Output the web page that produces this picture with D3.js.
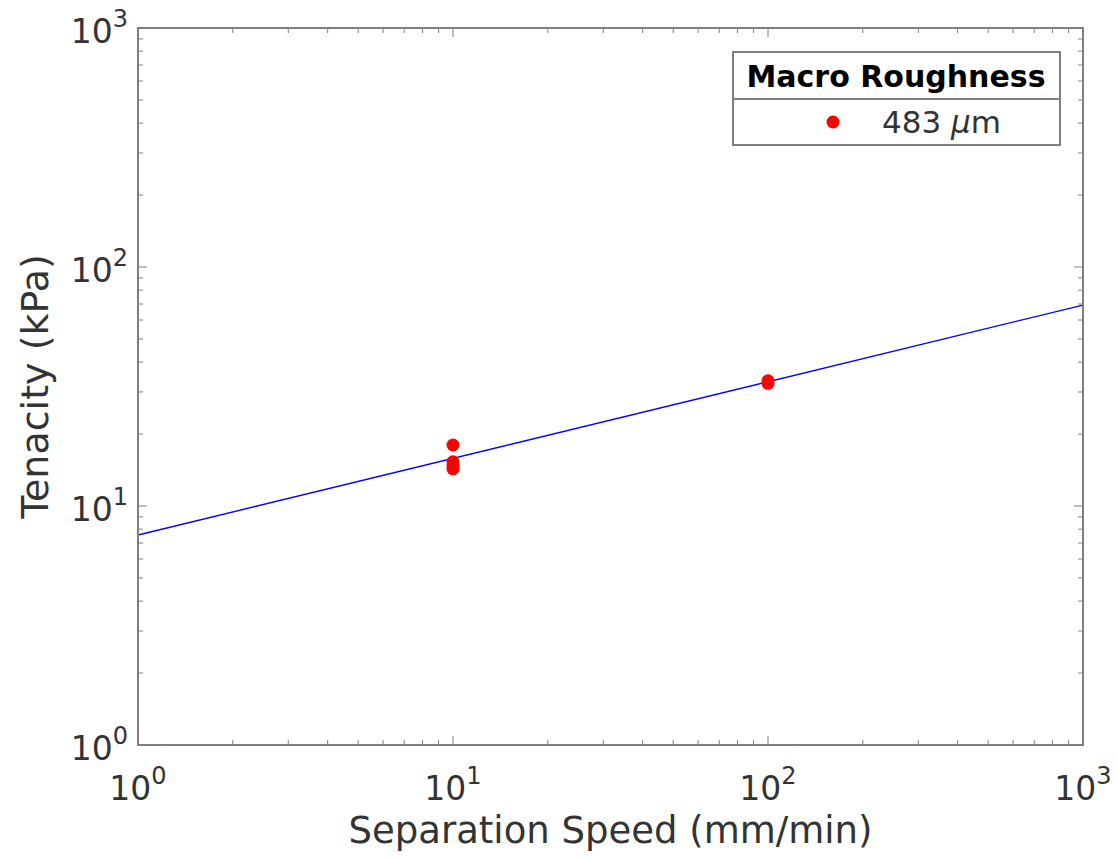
<!DOCTYPE html>
<html>
<head>
<meta charset="utf-8">
<script src="https://cdn.jsdelivr.net/npm/d3@7"></script>
<style>
  body { margin: 0; background: #fff; }
  text { font-family: "DejaVu Sans", sans-serif; fill: #333333; }
</style>
</head>
<body>
<div id="chart"></div>
<script>
// data
var speed = [10, 10, 10, 10, 100, 100];          // mm/min
var tenacity = [18.0, 15.3, 14.7, 14.3, 33.4, 32.6]; // kPa
var fitSpeed = [1, 1000];
var fitTenacity = [7.56, 69.3];
var xTicks = [1, 10, 100, 1000];
var yTicks = [1, 10, 100, 1000];
var legendTitle = "Macro Roughness";
var legendLabel = "483 ";

var W = 1118, H = 858;
var m = {left: 138, right: 35, top: 28, bottom: 113};

var svg = d3.select("#chart").append("svg")
  .attr("width", W).attr("height", H);

var x = d3.scaleLog().domain([1, 1000]).range([m.left, W - m.right]);
var y = d3.scaleLog().domain([1, 1000]).range([H - m.bottom, m.top]);

var axisCol = "#7f7f7f";
var x0 = x.range()[0], x1 = x.range()[1], y0 = y.range()[0], y1 = y.range()[1];

// minor + major ticks on all four sides
var minorVals = [];
for (var d = 1; d < 1000; d *= 10) {
  for (var k = 2; k <= 9; k++) minorVals.push(d * k);
}
var ticks = svg.append("g").attr("stroke", axisCol).attr("stroke-width", 1);
minorVals.forEach(function(v) {
  ticks.append("line").attr("x1", x(v)).attr("x2", x(v)).attr("y1", y0).attr("y2", y0 - 5);
  ticks.append("line").attr("x1", x(v)).attr("x2", x(v)).attr("y1", y1).attr("y2", y1 + 5);
  ticks.append("line").attr("y1", y(v)).attr("y2", y(v)).attr("x1", x0).attr("x2", x0 + 5);
  ticks.append("line").attr("y1", y(v)).attr("y2", y(v)).attr("x1", x1).attr("x2", x1 - 5);
});
xTicks.forEach(function(v) {
  ticks.append("line").attr("x1", x(v)).attr("x2", x(v)).attr("y1", y0).attr("y2", y0 - 9);
  ticks.append("line").attr("x1", x(v)).attr("x2", x(v)).attr("y1", y1).attr("y2", y1 + 9);
});
yTicks.forEach(function(v) {
  ticks.append("line").attr("y1", y(v)).attr("y2", y(v)).attr("x1", x0).attr("x2", x0 + 9);
  ticks.append("line").attr("y1", y(v)).attr("y2", y(v)).attr("x1", x1).attr("x2", x1 - 9);
});

// fit line
var line = d3.line().x(function(d) { return x(d[0]); }).y(function(d) { return y(d[1]); });
svg.append("path")
  .datum(d3.zip(fitSpeed, fitTenacity))
  .attr("d", line)
  .attr("fill", "none")
  .attr("stroke", "#0000ff")
  .attr("stroke-width", 1.4);

// data points
svg.append("g").selectAll("circle")
  .data(d3.zip(speed, tenacity))
  .enter().append("circle")
  .attr("cx", function(d) { return x(d[0]); })
  .attr("cy", function(d) { return y(d[1]); })
  .attr("r", 6.5)
  .attr("fill", "#ff0000");

// box
svg.append("rect")
  .attr("x", x0).attr("y", y1)
  .attr("width", x1 - x0).attr("height", y0 - y1)
  .attr("fill", "none").attr("stroke", axisCol).attr("stroke-width", 2);

// tick labels 10^n
function powLabel(g, v, px, py, anchor) {
  var t = g.append("text").attr("x", px).attr("y", py)
    .attr("text-anchor", anchor).style("font-size", "33px");
  t.append("tspan").text("10");
  t.append("tspan").attr("dy", -16).style("font-size", "24px")
    .text(Math.round(Math.log10(v)));
}
var labels = svg.append("g");
xTicks.forEach(function(v) { powLabel(labels, v, x(v), y0 + 55, "middle"); });
yTicks.forEach(function(v) { powLabel(labels, v, x0 - 10, y(v) + 15, "end"); });

// axis titles
svg.append("text")
  .attr("x", (x0 + x1) / 2).attr("y", 843)
  .attr("text-anchor", "middle")
  .style("font-size", "37px")
  .text("Separation Speed (mm/min)");
svg.append("text")
  .attr("transform", "translate(48," + ((y0 + y1) / 2) + ") rotate(-90)")
  .attr("text-anchor", "middle")
  .style("font-size", "38px")
  .text("Tenacity (kPa)");

// legend
var lg = svg.append("g");
lg.append("rect").attr("x", 733).attr("y", 52).attr("width", 327).attr("height", 93)
  .attr("fill", "#fff").attr("stroke", axisCol).attr("stroke-width", 2);
lg.append("line").attr("x1", 733).attr("x2", 1060).attr("y1", 99).attr("y2", 99)
  .attr("stroke", axisCol).attr("stroke-width", 2);
lg.append("text").attr("x", 896).attr("y", 87).attr("text-anchor", "middle")
  .style("font-size", "30px").style("font-weight", "bold").style("fill", "#000")
  .text(legendTitle);
lg.append("circle").attr("cx", 833).attr("cy", 122).attr("r", 6.5).attr("fill", "#ff0000");
var lt = lg.append("text").attr("x", 882).attr("y", 133).style("font-size", "31px");
lt.append("tspan").text(legendLabel);
lt.append("tspan").style("font-style", "italic").text("\u03bc");
lt.append("tspan").text("m");
</script>
</body>
</html>
